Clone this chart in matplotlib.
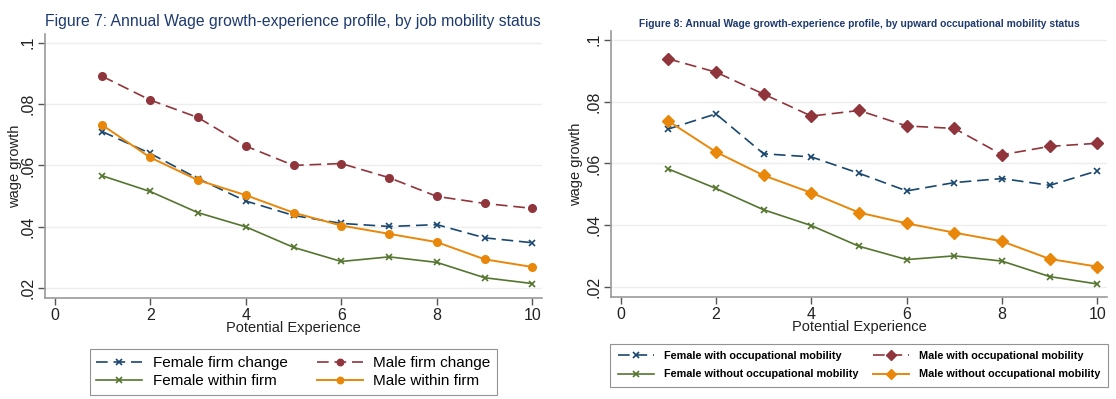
import matplotlib
matplotlib.use("Agg")
import matplotlib.pyplot as plt

# ---- data ----
experience = [1, 2, 3, 4, 5, 6, 7, 8, 9, 10]

# Figure 7: by job mobility status
female_firm_change = [0.0710, 0.0639, 0.0557, 0.0484, 0.0437, 0.0411, 0.0401, 0.0407, 0.0364, 0.0348]
male_firm_change = [0.0890, 0.0813, 0.0756, 0.0663, 0.0600, 0.0606, 0.0560, 0.0499, 0.0476, 0.0460]
female_within_firm = [0.0566, 0.0515, 0.0446, 0.0400, 0.0333, 0.0287, 0.0302, 0.0284, 0.0234, 0.0215]
male_within_firm = [0.0731, 0.0626, 0.0552, 0.0503, 0.0446, 0.0404, 0.0377, 0.0350, 0.0294, 0.0269]

# Figure 8: by upward occupational mobility status
female_with_occ = [0.0711, 0.0760, 0.0631, 0.0621, 0.0568, 0.0511, 0.0538, 0.0551, 0.0529, 0.0576]
male_with_occ = [0.0938, 0.0895, 0.0824, 0.0753, 0.0771, 0.0721, 0.0713, 0.0628, 0.0655, 0.0665]
female_without_occ = [0.0582, 0.0519, 0.0450, 0.0399, 0.0332, 0.0289, 0.0301, 0.0284, 0.0234, 0.0210]
male_without_occ = [0.0737, 0.0637, 0.0561, 0.0505, 0.0441, 0.0406, 0.0376, 0.0348, 0.0291, 0.0266]

x_ticks = [0, 2, 4, 6, 8, 10]
y_ticks = [0.02, 0.04, 0.06, 0.08, 0.10]
y_ticklabels = [".02", ".04", ".06", ".08", ".1"]

title_left = "Figure 7: Annual Wage growth-experience profile, by job mobility status"
title_right = "Figure 8: Annual Wage growth-experience profile, by upward occupational mobility status"
labels_left = ["Female firm change", "Male firm change", "Female within firm", "Male within firm"]
labels_right = ["Female with occupational mobility", "Male with occupational mobility",
                "Female without occupational mobility", "Male without occupational mobility"]

# ---- style ----
NAVY = "#1a476f"
MAROON = "#90353b"
GREEN = "#55752f"
ORANGE = "#e8870a"
TITLE_C = "#1e3a6e"
AX_C = "#9a9a9a"
DASH = (0, (7, 3.5))

plt.rcParams['font.family'] = ['Liberation Sans', 'DejaVu Sans']

fig = plt.figure(figsize=(11.16, 3.99), dpi=100)
axL = fig.add_axes([45 / 1116, 101 / 399, 497 / 1116, 264 / 399])
axR = fig.add_axes([611 / 1116, 102 / 399, 496 / 1116, 266 / 399])


def style_axes(ax, tick_fs, ylabelpad):
    ax.set_xlim(-0.2, 10.2)
    ax.set_ylim(0.0168, 0.1028)
    ax.set_xticks(x_ticks)
    ax.set_xticklabels([str(t) for t in x_ticks], fontsize=tick_fs)
    ax.set_yticks(y_ticks)
    ax.set_yticklabels(y_ticklabels, fontsize=tick_fs, rotation=90, va='center')
    for s in ['top', 'right']:
        ax.spines[s].set_visible(False)
    for s in ['left', 'bottom']:
        ax.spines[s].set_color(AX_C)
        ax.spines[s].set_linewidth(1.2)
    ax.tick_params(colors="#555555", labelcolor="#222222", length=5, width=1, pad=2)
    ax.grid(axis='y', color="#eeeeee", linewidth=1.0)
    ax.set_axisbelow(True)
    ax.set_xlabel("Potential Experience", fontsize=10.5, labelpad=-1, color="#222222")
    ax.set_ylabel("wage growth", fontsize=10.5, labelpad=ylabelpad, color="#222222")


def reorder(ax):
    h, l = ax.get_legend_handles_labels()
    order = [0, 2, 1, 3]
    return [h[i] for i in order], [l[i] for i in order]


# left panel
axL.plot(experience, female_firm_change, color=NAVY, ls=DASH, lw=1.2, marker='x', ms=5, mew=1.2,
         label=labels_left[0])
axL.plot(experience, male_firm_change, color=MAROON, ls=DASH, lw=1.2, marker='o', ms=5.5,
         label=labels_left[1])
axL.plot(experience, female_within_firm, color=GREEN, ls='-', lw=1.2, marker='x', ms=5, mew=1.2,
         label=labels_left[2])
axL.plot(experience, male_within_firm, color=ORANGE, ls='-', lw=1.4, marker='o', ms=5.5,
         label=labels_left[3])
style_axes(axL, 11.5, -1)
axL.set_title(title_left, fontsize=11.3, color=TITLE_C, pad=6, loc='left', x=0.0)
hL, lL = reorder(axL)
legL = axL.legend(hL, lL, loc='upper center', bbox_to_anchor=(0.5, -0.165), ncol=2, fontsize=11,
                  frameon=True, fancybox=False, edgecolor="#777777", handlelength=3.0,
                  numpoints=1, markerscale=0.85,
                  columnspacing=1.9, handletextpad=0.7, borderpad=0.45, labelspacing=0.25)
legL.get_frame().set_linewidth(0.8)

# right panel
axR.plot(experience, female_with_occ, color=NAVY, ls=DASH, lw=1.2, marker='x', ms=5, mew=1.2,
         label=labels_right[0])
axR.plot(experience, male_with_occ, color=MAROON, ls=DASH, lw=1.2, marker='D', ms=6.5,
         label=labels_right[1])
axR.plot(experience, female_without_occ, color=GREEN, ls='-', lw=1.2, marker='x', ms=5, mew=1.2,
         label=labels_right[2])
axR.plot(experience, male_without_occ, color=ORANGE, ls='-', lw=1.4, marker='D', ms=6.5,
         label=labels_right[3])
style_axes(axR, 11.5, 2)
axR.set_title(title_right, fontsize=7.4, color=TITLE_C, pad=3, fontweight='bold')
hR, lR = reorder(axR)
legR = axR.legend(hR, lR, loc='upper center', bbox_to_anchor=(0.5, -0.155), ncol=2,
                  prop={'size': 7.8, 'weight': 'bold'},
                  frameon=True, fancybox=False, edgecolor="#777777", handlelength=3.4,
                  numpoints=1, markerscale=0.8,
                  columnspacing=1.3, handletextpad=0.9, borderpad=0.7, labelspacing=0.75)
legR.get_frame().set_linewidth(0.8)

fig.savefig("out.png", dpi=100, facecolor="white")
